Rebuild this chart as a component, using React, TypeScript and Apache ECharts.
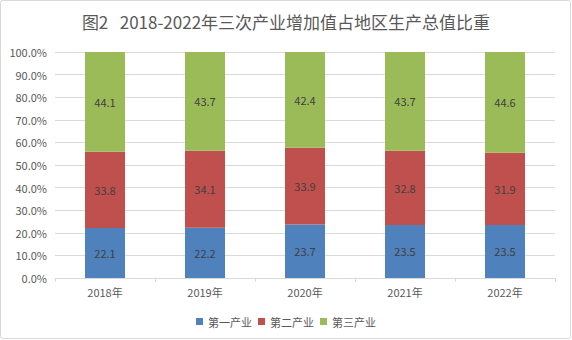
import React, { useEffect, useRef } from "react";
import * as echarts from "echarts";

const categories = ["2018年", "2019年", "2020年", "2021年", "2022年"];
const primary = [22.1, 22.2, 23.7, 23.5, 23.5];
const secondary = [33.8, 34.1, 33.9, 32.8, 31.9];
const tertiary = [44.1, 43.7, 42.4, 43.7, 44.6];
const seriesNames = ["第一产业", "第二产业", "第三产业"];
const colors = ["#4F81BD", "#C0504D", "#9BBB59"];
const title = "图2   2018-2022年三次产业增加值占地区生产总值比重";

export default function App() {
  const ref = useRef<HTMLDivElement>(null);
  useEffect(() => {
    document.body.style.margin = "0";
    const chart = echarts.init(ref.current!, null, { renderer: "svg" });
    const font = "'Noto Sans CJK SC', 'Noto Sans', sans-serif";
    const mk = (name: string, data: number[], color: string) => ({
      name,
      type: "bar",
      stack: "total",
      barWidth: 40,
      data,
      itemStyle: { color },
      label: {
        show: true,
        position: "inside",
        color: "#404040",
        fontSize: 11,
        fontFamily: font,
        formatter: (p: any) => Number(p.value).toFixed(1),
      },
    });
    chart.setOption({
      animation: false,
      textStyle: { fontFamily: font },
      title: {
        text: title,
        left: "center",
        top: 8,
        textStyle: { fontSize: 17, fontWeight: "normal", color: "#595959", fontFamily: font },
      },
      legend: {
        bottom: 8,
        left: "center",
        itemWidth: 7,
        itemHeight: 7,
        itemGap: 6,
        icon: "rect",
        textStyle: { fontSize: 11, color: "#595959", fontFamily: font },
        data: seriesNames,
      },
      grid: { left: 55, right: 17, top: 52, bottom: 62 },
      xAxis: {
        type: "category",
        data: categories,
        axisLine: { lineStyle: { color: "#D9D9D9" } },
        axisTick: { show: true, length: 4, lineStyle: { color: "#D9D9D9" } },
        axisLabel: { color: "#595959", fontSize: 11, margin: 8, fontFamily: font },
      },
      yAxis: {
        type: "value",
        min: 0,
        max: 100,
        interval: 10,
        axisLine: { show: false },
        axisTick: { show: false },
        splitLine: { lineStyle: { color: "#D9D9D9" } },
        axisLabel: {
          color: "#595959",
          fontSize: 11,
          margin: 8,
          fontFamily: font,
          formatter: (v: number) => v.toFixed(1) + "%",
        },
      },
      graphic: [
        {
          type: "rect",
          shape: { x: 0.5, y: 0.5, width: 570, height: 338, r: 2 },
          style: { fill: "none", stroke: "#D9D9D9", lineWidth: 1 },
          silent: true,
        },
      ],
      series: [
        mk(seriesNames[0], primary, colors[0]),
        mk(seriesNames[1], secondary, colors[1]),
        mk(seriesNames[2], tertiary, colors[2]),
      ],
    });
    return () => chart.dispose();
  }, []);
  return <div ref={ref} style={{ width: 572, height: 340 }} />;
}
